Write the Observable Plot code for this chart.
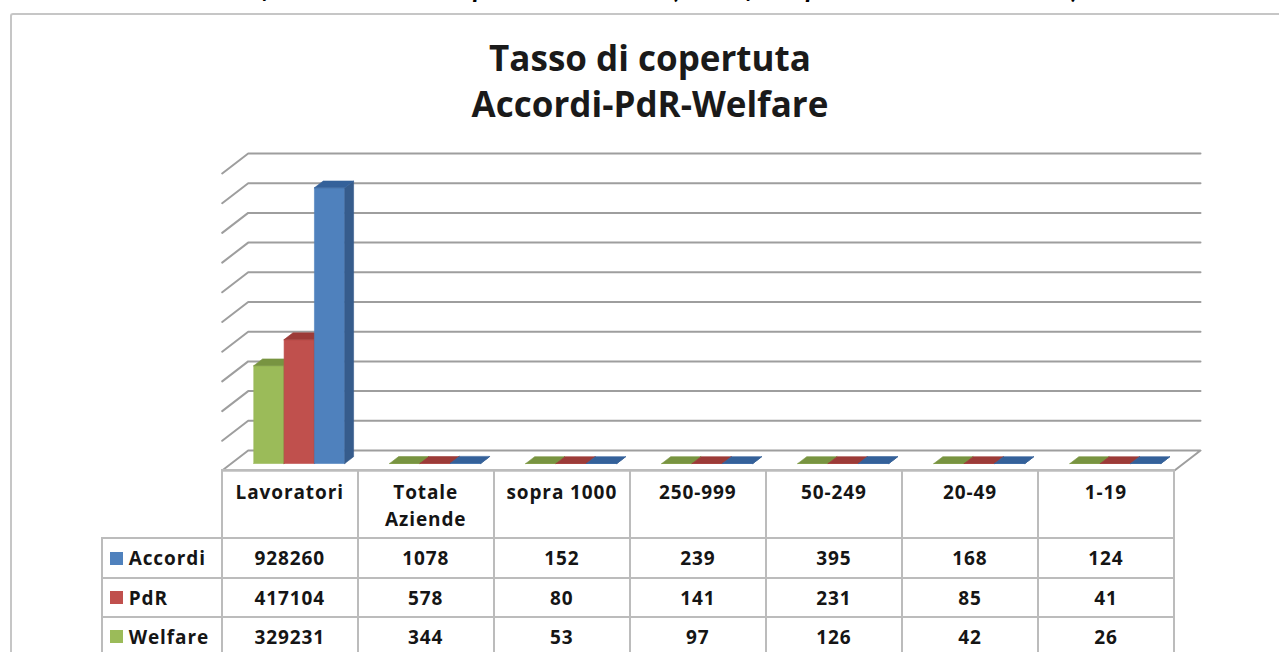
<!DOCTYPE html>
<html><head><meta charset="utf-8">
<script src="https://cdn.jsdelivr.net/npm/d3@7"></script>
<script src="https://cdn.jsdelivr.net/npm/@observablehq/plot@0.6"></script>
<style>
html,body{margin:0;padding:0;background:#fff;overflow:hidden;}
#wrap{position:relative;width:1279px;height:652px;overflow:hidden;font-family:"Open Sans",sans-serif;color:#151515;}
.abs{position:absolute;}
.cell{position:absolute;box-sizing:border-box;border:2px solid #bcbcbc;display:flex;justify-content:center;font-weight:700;font-size:19px;letter-spacing:0.9px;}
.body{align-items:center;}
.head{align-items:flex-start;padding-top:8px;line-height:27px;text-align:center;white-space:pre-line;}
.leg{align-items:center;justify-content:flex-start;padding-left:7px;}
.key{display:inline-block;width:13px;height:13px;margin-right:6px;}
</style></head>
<body><div id="wrap"></div>
<script>
// ---- data ----
const categories = ["Lavoratori", "Totale\nAziende", "sopra 1000", "250-999", "50-249", "20-49", "1-19"];
const seriesNames = ["Accordi", "PdR", "Welfare"];
const accordi = [928260, 1078, 152, 239, 395, 168, 124];
const pdr = [417104, 578, 80, 141, 231, 85, 41];
const welfare = [329231, 344, 53, 97, 126, 42, 26];
const gridTicks = [100000, 200000, 300000, 400000, 500000, 600000, 700000, 800000, 900000, 1000000];
const titleLines = ["Tasso di copertuta", "Accordi-PdR-Welfare"];
const captionText = "Grafico 5 – Tasso di copertura nel 2017 (dati riferiti per classe dimensionale)";
// colours: front, side, top
const shades = {
  Accordi: ["#4F81BD", "#365C8C", "#34619A"],
  PdR: ["#C0504D", "#8E3835", "#9C3B38"],
  Welfare: ["#9BBB59", "#6F873D", "#789441"]
};

// ---- layout ----
const W = 1279;
const X0 = 221.7, X1 = 1174;      // front plane of floor
const Y0 = 470, YTOP = 173;       // front plane baseline / max
const YMAX = 1000000;
const DEPTH_PX = [26, 20];        // back wall offset (right, up)
const nCat = categories.length;
const kx = (X1 - X0) / nCat, ky = (Y0 - YTOP) / YMAX;
const DX = DEPTH_PX[0] / kx, DY = DEPTH_PX[1] / ky;
const P = (x, y, t) => ({x: x + t * DX, y: y + t * DY});

const wrap = document.getElementById("wrap");

// frame + caption + title
const frame = document.createElement("div");
frame.className = "abs";
Object.assign(frame.style, {left: "10px", top: "13px", width: "1300px", height: "700px",
  borderLeft: "2px solid #c6c6c6", borderTop: "2px solid #c6c6c6", borderTopLeftRadius: "3px"});
wrap.appendChild(frame);

const cap = document.createElement("div");
cap.className = "abs";
cap.textContent = captionText;
Object.assign(cap.style, {left: "0px", width: "1300px", top: "-25px", textAlign: "center",
  fontFamily: "Lato", fontStyle: "italic", fontWeight: "700", fontSize: "27px", lineHeight: "26px", color: "#000"});
wrap.appendChild(cap);

// ---- chart (Plot) ----
const gridPts = [];
gridTicks.forEach(v => {
  [P(0, v, 0), P(0, v, 1), P(nCat, v, 1)].forEach(p => gridPts.push({...p, id: v}));
});
const floorPts = [P(0, 0, 0), P(nCat, 0, 0), P(nCat, 0, 1), P(0, 0, 1), P(0, 0, 0)];

const drawOrder = [["Welfare", welfare], ["PdR", pdr], ["Accordi", accordi]];
const faces = [];
let fid = 0;
const tf = 0.35, tb = 0.69, off = 0.165, bw = 0.223;
categories.forEach((c, i) => {
  drawOrder.forEach(([name, vals], j) => {
    const v = vals[i];
    const xa = i + off + j * bw, xb = xa + bw;
    const [front, side, top] = shades[name];
    const polys = [
      [front, [P(xa, 0, tf), P(xb, 0, tf), P(xb, v, tf), P(xa, v, tf)]],
      [side, [P(xb, 0, tf), P(xb, 0, tb), P(xb, v, tb), P(xb, v, tf)]],
      [top, [P(xa, v, tf), P(xb, v, tf), P(xb, v, tb), P(xa, v, tb)]]
    ];
    polys.forEach(([col, pts]) => {
      fid++;
      pts.concat([pts[0]]).forEach(p => faces.push({...p, id: fid, color: col}));
    });
  });
});

const chart = Plot.plot({
  width: W, height: 480,
  margin: 0,
  style: {background: "transparent", overflow: "visible"},
  x: {type: "linear", domain: [0, nCat], range: [X0, X1], axis: null},
  y: {type: "linear", domain: [0, YMAX], range: [Y0, YTOP], axis: null},
  color: {type: "identity"},
  marks: [
    Plot.line(gridPts, {x: "x", y: "y", z: "id", stroke: "#9e9e9e", strokeWidth: 2}),
    Plot.line(floorPts, {x: "x", y: "y", fill: "#fff", stroke: "#9e9e9e", strokeWidth: 2}),
    Plot.line(faces, {x: "x", y: "y", z: "id", fill: "color", stroke: "color", strokeWidth: 0.6})
  ]
});
chart.style.position = "absolute";
chart.style.left = "0px";
chart.style.top = "0px";
wrap.appendChild(chart);

const title = document.createElement("div");
title.className = "abs";
title.innerHTML = titleLines.join("<br>");
Object.assign(title.style, {left: "0px", width: "1300px", top: "35px", textAlign: "center",
  fontWeight: "700", fontSize: "35px", lineHeight: "46px", color: "#1a1a1a"});
wrap.appendChild(title);

// ---- data table ----
const rowEdges = [470, 538, 578, 617, 656];
const legLeft = 101.7;
function cell(x, y, w, h, cls, content) {
  const d = document.createElement("div");
  d.className = "cell " + cls;
  Object.assign(d.style, {left: (x - 1) + "px", top: (y - 1) + "px", width: (w + 2) + "px", height: (h + 2) + "px"});
  if (typeof content === "string") d.textContent = content; else if (content) d.appendChild(content);
  wrap.appendChild(d);
}
categories.forEach((c, k) => {
  cell(X0 + k * kx, rowEdges[0], kx, rowEdges[1] - rowEdges[0], "head", c);
});
const tableSeries = [["Accordi", accordi], ["PdR", pdr], ["Welfare", welfare]];
tableSeries.forEach(([name, vals], r) => {
  const y = rowEdges[r + 1], h = rowEdges[r + 2] - rowEdges[r + 1];
  const frag = document.createElement("span");
  frag.style.display = "flex"; frag.style.alignItems = "center";
  const key = document.createElement("span");
  key.className = "key"; key.style.background = shades[name][0];
  frag.appendChild(key);
  frag.appendChild(document.createTextNode(name));
  cell(legLeft, y, X0 - legLeft, h, "leg", frag);
  vals.forEach((v, k) => cell(X0 + k * kx, y, kx, h, "body", String(v)));
});
</script>
</body></html>
